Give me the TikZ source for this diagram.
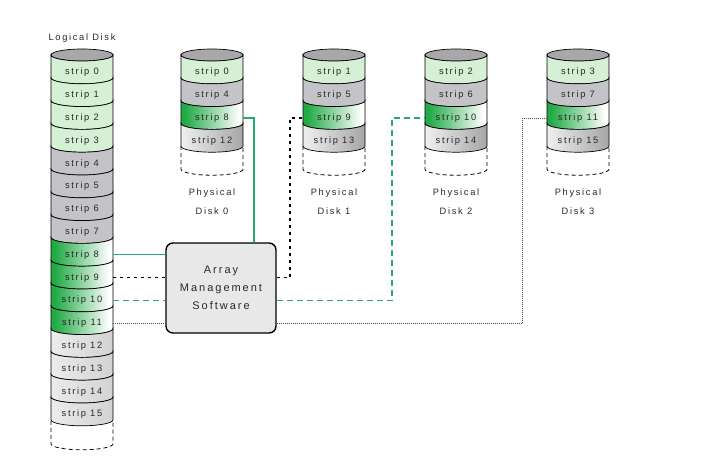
\documentclass[tikz,border=0pt]{standalone}
\usepackage{fontspec}
\setmainfont{Liberation Sans}[LetterSpace=18]
\definecolor{lgreen}{RGB}{214,240,214}
\definecolor{mgray}{RGB}{196,196,200}
\definecolor{topgray}{RGB}{168,168,170}
\definecolor{dgreen}{RGB}{34,170,70}
\definecolor{cgreen}{RGB}{40,170,110}
\definecolor{txt}{RGB}{40,40,40}
\pgfdeclarehorizontalshading{greenfade}{100bp}{color(0bp)=(dgreen); color(28bp)=(dgreen); color(72bp)=(white); color(100bp)=(white)}
\pgfdeclarehorizontalshading{grayfadeP}{100bp}{color(0bp)=(white); color(25bp)=(gray!12); color(75bp)=(gray!70); color(100bp)=(gray!75)}
\pgfdeclarehorizontalshading{grayfadeL}{100bp}{color(0bp)=(gray!8); color(25bp)=(gray!15); color(100bp)=(gray!45)}
\tikzset{
  lg/.style={fill=lgreen},
  mg/.style={fill=mgray},
  gf/.style={shading=greenfade},
  gp/.style={shading=grayfadeP},
  gl/.style={shading=grayfadeL},
  cell/.style={minimum width=62pt,minimum height=10pt,inner sep=0pt,text=txt,font=\fontsize{9.3}{10}\selectfont},
  lab/.style={text=txt,font=\fontsize{9.3}{10}\selectfont,inner sep=0pt},
  gline/.style={draw=cgreen,line width=1.2pt},
  kdash/.style={draw=black,line width=1.2pt,dash pattern=on 3pt off 4pt},
  gdash/.style={draw=cgreen,line width=1.4pt,dash pattern=on 6pt off 4pt},
  kdot/.style={draw=black!70,line width=1pt,dash pattern=on 0.8pt off 1.2pt},
  ext/.style={draw=black,line width=0.8pt,dash pattern=on 4pt off 3pt},
}
\newcommand\stripcell[5]{%
  \pgfmathsetmacro\yt{55+#2*22.8}%
  \pgfmathsetmacro\yb{\yt+22.8}%
  \path[#3,draw=black,line width=0.7pt] (#1-31,\yt) -- (#1-31,\yb)
     arc[start angle=180,end angle=360,x radius=31pt,y radius=6pt]
     -- (#1+31,\yt) arc[start angle=0,end angle=-180,x radius=31pt,y radius=6pt] -- cycle;
  \node[cell] (#4) at (#1,\yt+17.4) {#5};}
\newcommand\cyltop[1]{\draw[fill=topgray,line width=0.7pt] (#1,55) ellipse[x radius=31pt,y radius=6pt];}
\newcommand\cylext[2]{\draw[ext] (#1-31,#2) -- (#1-31,#2+23) arc[start angle=180,end angle=360,x radius=31pt,y radius=6pt] -- (#1+31,#2);}
\begin{document}
\begin{tikzpicture}[x=1pt,y=-1pt]
\useasboundingbox (0,0) rectangle (720,466);
% Logical disk
\node[lab] (ltitle) at (82,38) {Logical Disk};
\cyltop{82}
\foreach \i in {0,...,3} {\stripcell{82}{\i}{lg}{L\i}{strip \i}}
\foreach \i in {4,...,7} {\stripcell{82}{\i}{mg}{L\i}{strip \i}}
\foreach \i in {8,...,11} {\stripcell{82}{\i}{gf}{L\i}{strip \i}}
\foreach \i in {12,...,15} {\stripcell{82}{\i}{gl}{L\i}{strip \i}}
\cylext{82}{420.8}
% Physical disks
\foreach \k/\cx in {0/212,1/334,2/456,3/578} {
  \cyltop{\cx}
  \pgfmathtruncatemacro\a{\k}\pgfmathtruncatemacro\b{4+\k}\pgfmathtruncatemacro\c{8+\k}\pgfmathtruncatemacro\d{12+\k}
  \stripcell{\cx}{0}{lg}{P\a}{strip \a}
  \stripcell{\cx}{1}{mg}{P\b}{strip \b}
  \stripcell{\cx}{2}{gf}{P\c}{strip \c}
  \stripcell{\cx}{3}{gp}{P\d}{strip \d}
  \cylext{\cx}{146.2}
  \node[lab] (pa\k) at (\cx,193) {Physical};
  \node[lab] (pb\k) at (\cx,211) {Disk \k};
}
% Array management software
\node[draw=black,line width=1.4pt,rounded corners=7pt,fill=gray!18,minimum width=110pt,minimum height=90pt,
      align=center,text=txt,font=\fontsize{11}{18}\selectfont] (box) at (221,288) {Array\\Management\\Software};
\coordinate (v0) at (254,117);
\coordinate (v1) at (290,117);
\coordinate (v2) at (392,117);
\coordinate (v3) at (522,117);
% connectors
\draw[gline] (L8.east) -- (L8.east -| box.west);
\draw[gline] (box.north -| v0) |- (P8.east);
\draw[kdash] (L9.east) -- (L9.east -| box.west);
\draw[kdash] (L9.east -| box.east) -- (L9.east -| v1) |- (P9.west);
\draw[gdash] (L10.east) -- (L10.east -| box.west);
\draw[gdash] (L10.east -| box.east) -- (L10.east -| v2) |- (P10.west);
\draw[kdot] (L11.east) -- (L11.east -| box.west);
\draw[kdot] (L11.east -| box.east) -- (L11.east -| v3) |- (P11.west);
\end{tikzpicture}
\end{document}
